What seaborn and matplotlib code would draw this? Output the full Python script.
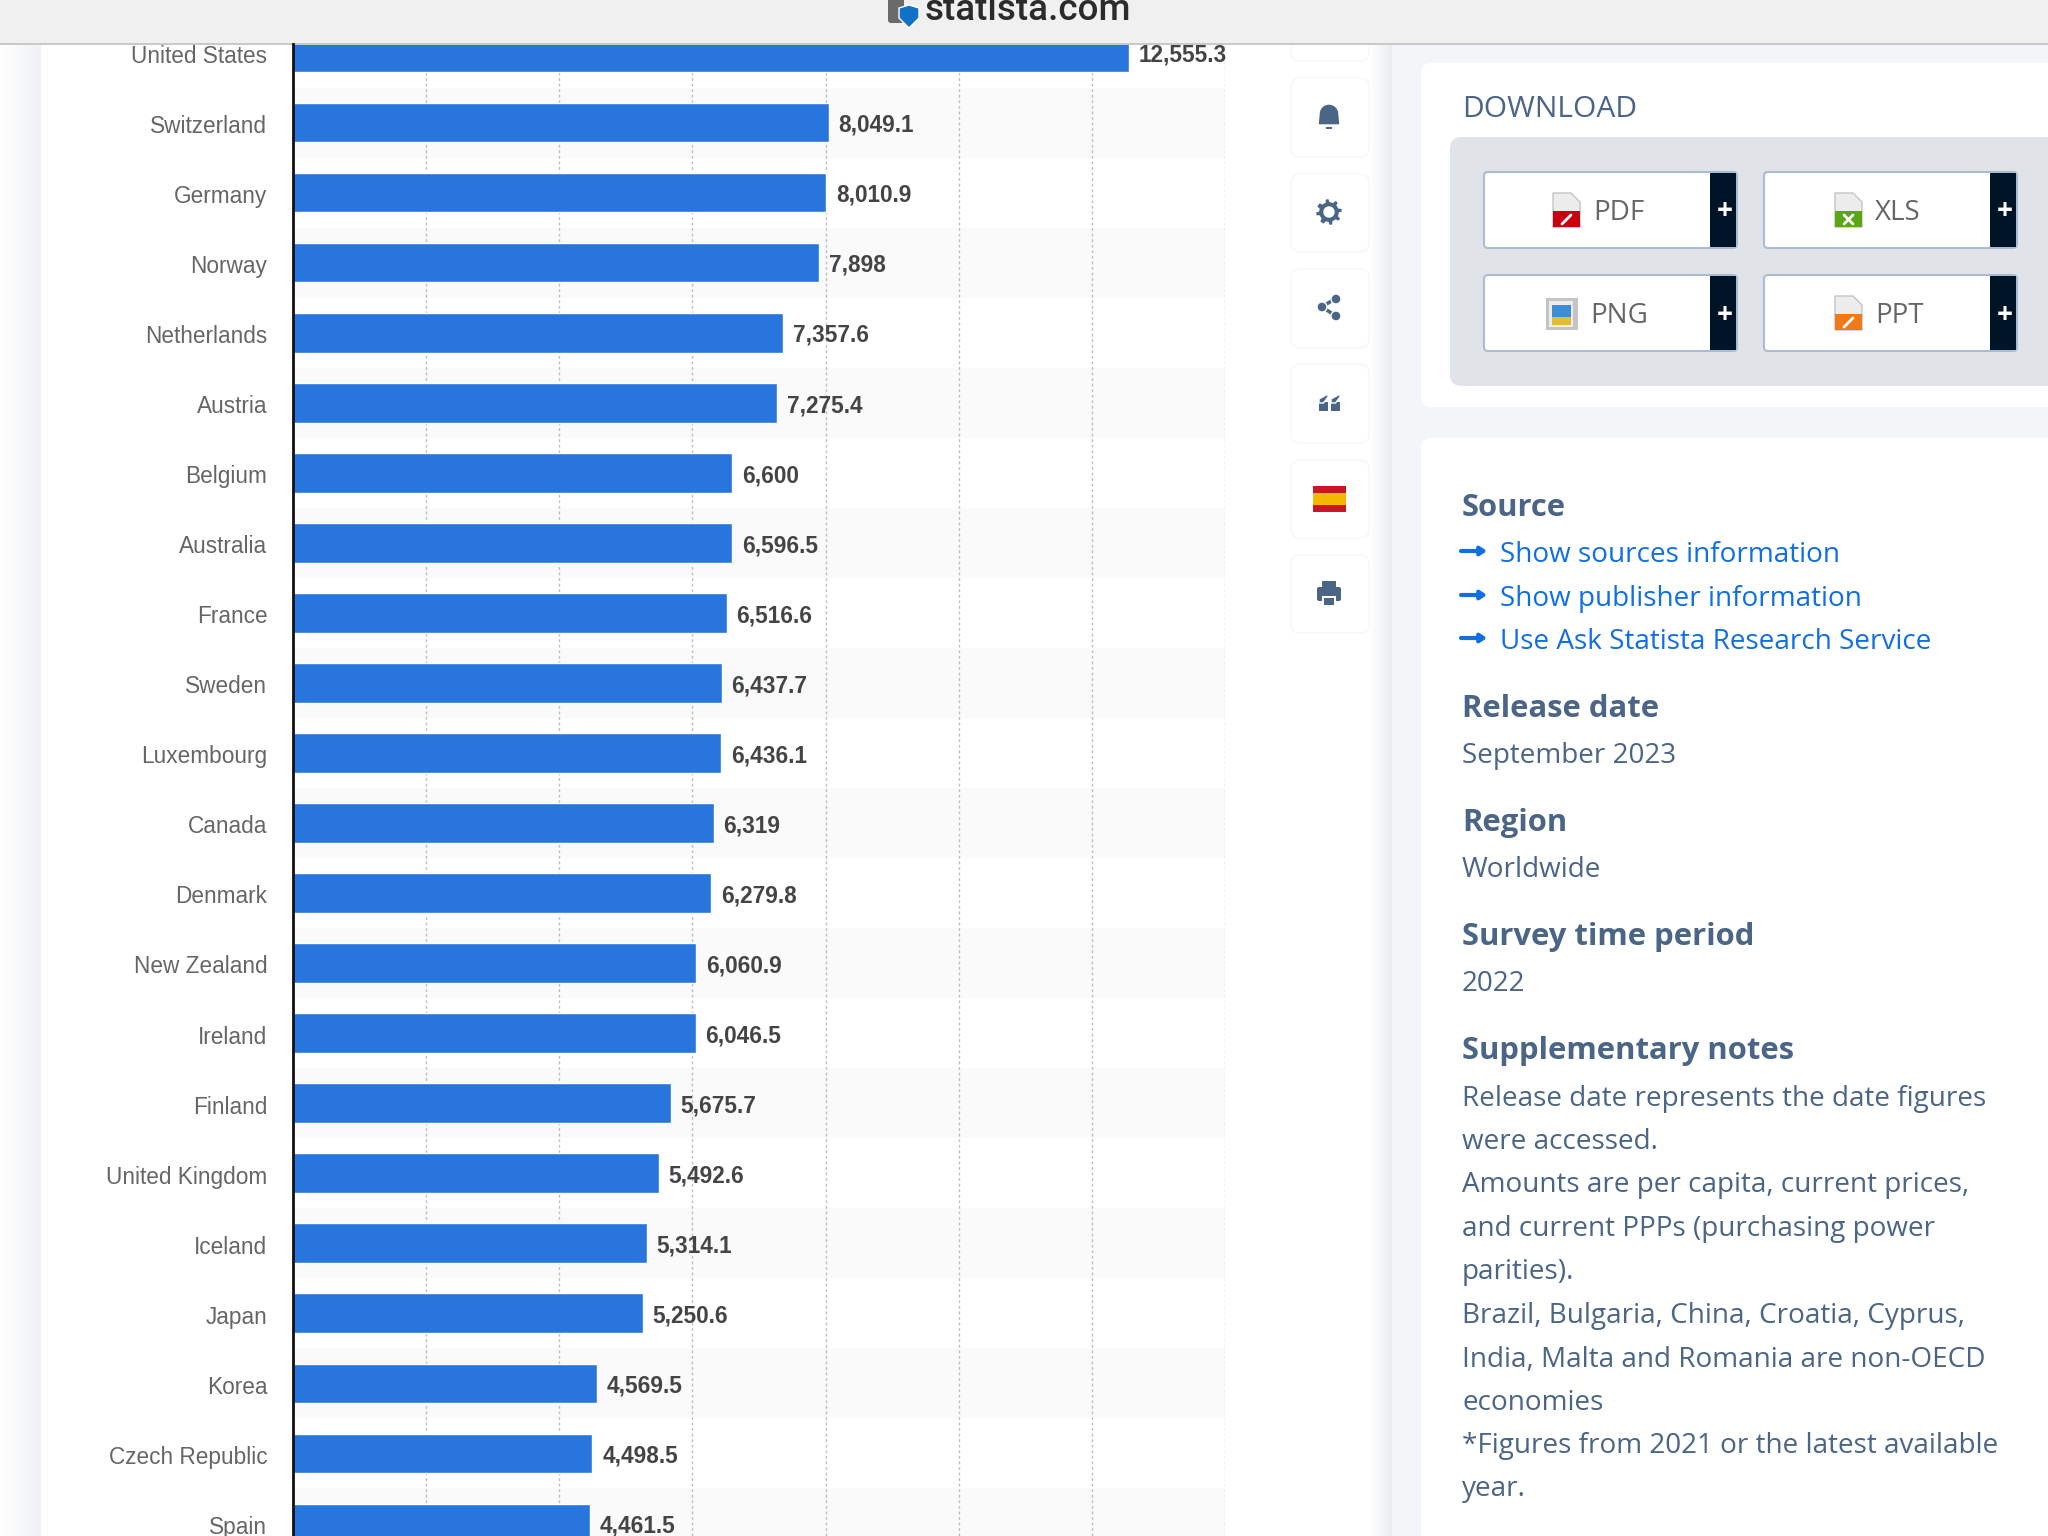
import numpy as np
import pandas as pd
import matplotlib.pyplot as plt
import seaborn as sns
from matplotlib.patches import Rectangle, FancyBboxPatch, Circle, Polygon
from matplotlib.transforms import ScaledTranslation

countries = ["United States", "Switzerland", "Germany", "Norway", "Netherlands", "Austria",
             "Belgium", "Australia", "France", "Sweden", "Luxembourg", "Canada", "Denmark",
             "New Zealand", "Ireland", "Finland", "United Kingdom", "Iceland", "Japan",
             "Korea", "Czech Republic", "Spain"]
spending = [12555.3, 8049.1, 8010.9, 7898, 7357.6, 7275.4, 6600, 6596.5, 6516.6, 6437.7,
            6436.1, 6319, 6279.8, 6060.9, 6046.5, 5675.7, 5492.6, 5314.1, 5250.6, 4569.5,
            4498.5, 4461.5]
x_ticks = [2000, 4000, 6000, 8000, 10000, 12000, 14000]

download_buttons = ["PDF", "XLS", "PNG", "PPT"]
link_lines = ["Show sources information", "Show publisher information", "Use Ask Statista Research Service"]
note_lines = ["Release date represents the date figures", "were accessed.",
              "Amounts are per capita, current prices,", "and current PPPs (purchasing power",
              "parities).", "Brazil, Bulgaria, China, Croatia, Cyprus,",
              "India, Malta and Romania are non-OECD", "economies",
              "*Figures from 2021 or the latest available", "year."]

W, H = 2048, 1536
BAR_BLUE = "#2975de"
SLATE = "#4a6585"
LINK = "#0f6fe3"
NAVY = "#001428"
BODY_PT = 20.1
HEAD_PT = 22.3

sns.set_theme(style="white")
plt.rcParams['font.family'] = ['Liberation Sans', 'DejaVu Sans']

fig = plt.figure(figsize=(W / 100, H / 100), dpi=100, facecolor="white")

# page furniture lives on a full-figure axes in pixel coordinates
bg = fig.add_axes([0, 0, 1, 1], zorder=0)
bg.set_xlim(0, W)
bg.set_ylim(H, 0)
bg.axis("off")


def rect(x0, y0, x1, y1, color, z=1, **kw):
    bg.add_patch(Rectangle((x0, y0), x1 - x0, y1 - y0, facecolor=color, edgecolor="none", zorder=z, **kw))


def rounded(x0, y0, x1, y1, color, r=10, z=2, edge="none", lw=0):
    bg.add_patch(FancyBboxPatch((x0 + r, y0 + r), x1 - x0 - 2 * r, y1 - y0 - 2 * r,
                                boxstyle=f"round,pad={r},rounding_size={r}",
                                facecolor=color, edgecolor=edge, linewidth=lw, zorder=z))


def shade(x0, x1, c0, c1):
    grad = np.linspace(0, 1, 40).reshape(1, -1)
    cmap = plt.matplotlib.colors.LinearSegmentedColormap.from_list("s", [c0, c1])
    bg.imshow(grad, extent=(x0, x1, H, 0), aspect="auto", cmap=cmap, zorder=1)


rect(1392, 0, W, H, "#f3f5f8")
shade(0, 41, "#ffffff", "#eff1f5")
shade(1369, 1392, "#ffffff", "#ebedf2")
bg.set_xlim(0, W)
bg.set_ylim(H, 0)

# top browser bar
rect(0, 0, W, 43, "#f0f0f0", z=5)
rect(0, 43, W, 44.5, "#c9c9c9", z=5)
bg.text(925, 10, "statista.com", fontsize=26.5, color="#2b2b2b", family="Roboto", weight="medium",
        va="center", ha="left", zorder=6)
rounded(888, -6, 904, 23, "#6a6a6a", r=3, z=6)
bg.add_patch(Polygon([(899, 8), (909, 5), (919, 8), (919, 18), (909, 28), (899, 18)], facecolor="#1271c4", zorder=7))

# sidebar buttons
rounded(1291, 20, 1369, 61, "white", r=9, edge="#f6f7f9", lw=1)
for y0, y1 in [(78, 157), (174, 252), (269, 348), (364, 443), (460, 538), (555, 633)]:
    rounded(1291, y0, 1369, y1, "white", r=9, edge="#f6f7f9", lw=1)

# bell
bell_t = np.linspace(np.pi, 0, 20)
bell_x = list(1329 + 10 * np.cos(bell_t)) + [1340, 1318]
bell_y = list(114 + 10 * np.sin(-bell_t)) + [125, 125]
bg.add_patch(Polygon(list(zip(bell_x, bell_y)), facecolor=SLATE, zorder=4))
rect(1326, 127, 1332, 129, SLATE, z=4)
# gear
gear_t = np.linspace(0, 2 * np.pi, 64, endpoint=False)
gear_r = np.where(np.floor(gear_t / (2 * np.pi) * 16) % 2 == 0, 13.5, 10.5)
bg.add_patch(Polygon(list(zip(1329 + gear_r * np.sin(gear_t), 212 + gear_r * np.cos(gear_t))), facecolor=SLATE, zorder=4))
bg.add_patch(Circle((1329, 212), 5, facecolor="white", zorder=5))
# share
bg.plot([1336, 1322, 1336], [298, 307, 316], color=SLATE, lw=2.5, zorder=4)
for cx, cy in [(1336, 299), (1322, 307), (1336, 316)]:
    bg.add_patch(Circle((cx, cy), 5, facecolor=SLATE, zorder=5))
# quote marks
for cx in (1323.5, 1335.5):
    rect(cx - 4.5, 402, cx + 4.5, 411, SLATE, z=4)
    bg.add_patch(Polygon([(cx - 4.5, 403), (cx - 4.5, 399), (cx + 4.5, 394), (cx + 4.5, 397), (cx, 403)],
                         facecolor=SLATE, zorder=4))
# flag
rect(1313, 486, 1346, 493, "#c8171e", z=4)
rect(1313, 493, 1346, 505, "#f5b800", z=4)
rect(1313, 505, 1346, 512, "#c8171e", z=4)
# printer
rect(1322, 581, 1336, 588, SLATE, z=4)
rounded(1317, 587, 1341, 601, SLATE, r=2, z=4)
rect(1322, 596, 1336, 606, "white", z=5)
rect(1324, 598, 1334, 605, SLATE, z=6)

# right hand cards
rounded(1421, 63, W + 30, 407, "white", r=10)
rounded(1421, 438, W + 30, H + 30, "white", r=10)
rounded(1450, 137, W + 30, 386, "#e0e3e7", r=12, z=3)

panel_font = dict(family="Open Sans", va="baseline", zorder=6)
bg.text(1462, 117, "DOWNLOAD", fontsize=21.6, color=SLATE, weight="medium", **panel_font)

button_boxes = [(1484, 172), (1764, 172), (1484, 275), (1764, 275)]
label_x = [1593, 1875, 1590, 1875]
icon_colors = ["#c9000f", "#5aa615", "#3d8ed8", "#ee7a1a"]
for name, (bx, by), tx, col in zip(download_buttons, button_boxes, label_x, icon_colors):
    rounded(bx, by, bx + 253, by + 76, "white", r=4, z=4, edge="#a9bcd3", lw=1.5)
    rect(bx + 226, by + 1, bx + 252, by + 75, NAVY, z=5)
    bg.text(bx + 241, by + 40, "+", fontsize=20, color="white", weight="bold", ha="center", va="center",
            family="Open Sans", zorder=6)
    bg.text(tx, by + 48, name, fontsize=20, color="#666666", **panel_font)
    ix = tx - 40
    if name == "PNG":
        rect(ix - 4, by + 23, ix + 28, by + 55, "#c4c4c4", z=5)
        rect(ix - 1, by + 26, ix + 23, by + 52, "#ededed", z=5)
        rect(ix + 2, by + 30, ix + 21, by + 50, col, z=6)
        rect(ix + 2, by + 42, ix + 21, by + 50, "#e5b93a", z=7)
    else:
        bg.add_patch(Polygon([(ix, by + 21), (ix + 18, by + 21), (ix + 27, by + 30), (ix + 27, by + 55), (ix, by + 55)],
                             facecolor="#ececec", edgecolor="#c4c4c4", linewidth=1, zorder=5))
        rect(ix, by + 39, ix + 27, by + 55, col, z=6)
        bg.plot([ix + 9, ix + 18], [by + 52, by + 43], color="white", lw=2, zorder=7)
        if name == "XLS":
            bg.plot([ix + 9, ix + 18], [by + 43, by + 52], color="white", lw=2, zorder=7)

# source card text
x_text = 1462
bg.text(x_text, 516, "Source", fontsize=HEAD_PT, weight="bold", color=SLATE, **panel_font)
for y, line in zip((562, 606, 649), link_lines):
    bg.text(1500, y, line, fontsize=BODY_PT, color=LINK, **panel_font)
    bg.annotate("", xy=(1487, y - 11), xytext=(1461, y - 11), zorder=6,
                arrowprops=dict(arrowstyle="-|>,head_width=0.2,head_length=0.3", color=LINK, lw=3,
                                shrinkA=0, shrinkB=0))

bg.text(x_text, 717, "Release date", fontsize=HEAD_PT, weight="bold", color=SLATE, **panel_font)
bg.text(x_text, 763, "September 2023", fontsize=BODY_PT, color=SLATE, **panel_font)
bg.text(x_text, 831, "Region", fontsize=HEAD_PT, weight="bold", color=SLATE, **panel_font)
bg.text(x_text, 877, "Worldwide", fontsize=BODY_PT, color=SLATE, **panel_font)
bg.text(x_text, 945, "Survey time period", fontsize=HEAD_PT, weight="bold", color=SLATE, **panel_font)
bg.text(x_text, 991, "2022", fontsize=BODY_PT, color=SLATE, **panel_font)
bg.text(x_text, 1059, "Supplementary notes", fontsize=HEAD_PT, weight="bold", color=SLATE, **panel_font)
for y, line in zip((1106, 1149, 1192, 1236, 1279, 1323, 1367, 1410, 1453, 1496), note_lines):
    bg.text(x_text, y, line, fontsize=BODY_PT, color=SLATE, **panel_font)

# the chart itself
left, right = 293, 1225
top, bottom = 44.5, H
ax = fig.add_axes([left / W, 0, (right - left) / W, (bottom - top) / H], zorder=2)
ax.set_facecolor("none")

df = pd.DataFrame({"country": countries, "spending": spending})
sns.barplot(data=df, x="spending", y="country", color=BAR_BLUE, saturation=1, width=0.565, ax=ax)

for i in range(1, len(countries), 2):
    ax.axhspan(i - 0.5, i + 0.5, color="#fafafa", lw=0, zorder=0)

ax.set_xlim(0, 14000)
ax.set_ylim(21.18, -0.115)
ax.set_xticks(x_ticks)
ax.set_xlabel("")
ax.set_ylabel("")
ax.tick_params(axis="x", length=0, labelbottom=False)
ax.tick_params(axis="y", length=0, pad=18.5, labelsize=16.3, labelcolor="#666666")
ax.xaxis.grid(True, linestyle=(0, (2, 2)), color="#bdbdbd", linewidth=1)
ax.set_axisbelow(True)
sns.despine(ax=ax, top=True, right=True, bottom=True)
ax.spines["left"].set_color("#111111")
ax.spines["left"].set_linewidth(2)

nudge = ScaledTranslation(0, -1 / 72, fig.dpi_scale_trans)
for tick_label in ax.get_yticklabels():
    tick_label.set_transform(tick_label.get_transform() + nudge)

value_labels = [format(v, ",g") for v in spending]
annotations = ax.bar_label(ax.containers[0], labels=value_labels, padding=7, fontsize=16.3,
                           fontweight="bold", color="#444444")
for ann in annotations:
    ann.xyann = (7, -2)

fig.savefig("out.png", dpi=100)
